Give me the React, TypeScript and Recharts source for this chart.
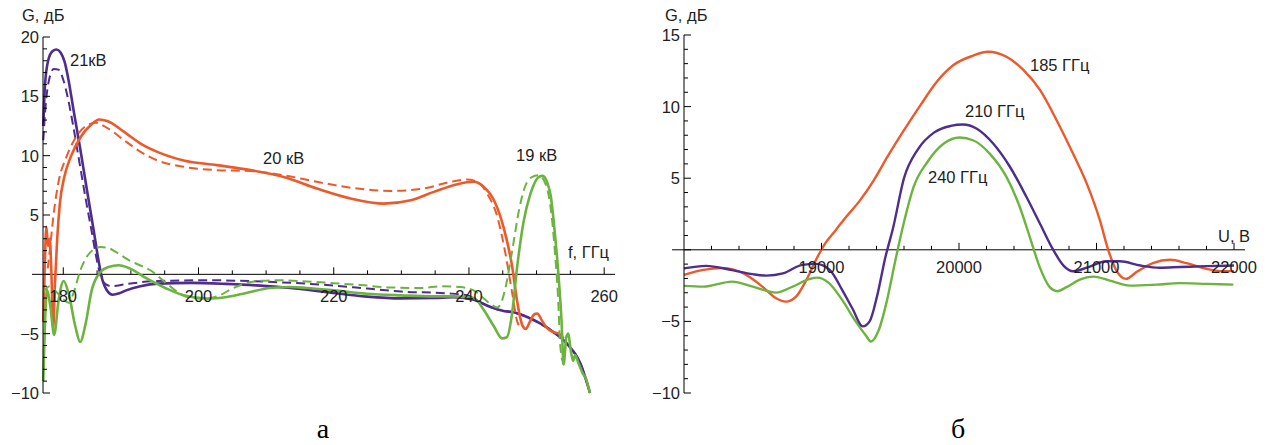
import React from 'react';
import { ComposedChart, Line, XAxis, YAxis, Scatter, ReferenceLine } from 'recharts';

type Pt = [number, number];

const FONT = '"Liberation Sans", Arial, Helvetica, sans-serif';
const SERIF = '"Liberation Serif", "Times New Roman", serif';
const PURPLE = '#4e2d8e';
const RED = '#ec5a2c';
const GREEN = '#6cb43f';
const INK = '#1e1e1e';

// ---------------- Panel а : G(f), f in GHz ----------------
const aXDomain: [number, number] = [177.0, 261.6];
const aYDomain: [number, number] = [-10, 20];
const aXMajor = [180, 200, 220, 240, 260];
const aXMinor = [185, 190, 195, 205, 210, 215, 225, 230, 235, 245, 250, 255];
const aYTicks = [-10, -9, -8, -7, -6, -5, -4, -3, -2, -1, 0, 1, 2, 3, 4, 5, 6, 7, 8, 9, 10, 11, 12, 13, 14, 15, 16, 17, 18, 19, 20];
const aYLabels = [-10, -5, 5, 10, 15, 20];

// 21 кВ
const a21Solid: Pt[] = [
  [177.04, 12.5], [177.3, 16.0], [177.8, 18.1], [178.4, 18.8], [179.0, 18.95], [179.6, 18.7],
  [180.2, 17.9], [180.8, 16.3], [181.5, 13.9], [182.5, 10.6], [183.5, 7.1], [184.5, 3.7],
  [185.2, 1.2], [185.8, -0.5], [186.4, -1.3], [187.3, -1.72], [188.3, -1.6], [189.3, -1.35],
  [191.4, -1.0], [194, -0.78], [199, -0.72], [204, -0.8], [208.6, -0.93], [213.6, -1.15],
  [219, -1.5], [224.9, -1.88], [229.9, -2.03], [234.8, -2.0], [237.8, -1.92], [240.7, -2.14],
  [243.2, -2.76], [245.1, -3.09], [246.6, -3.2], [248.6, -3.6], [250.6, -4.16], [252.5, -4.87],
  [254.5, -5.85], [256.5, -7.54], [257.9, -10.0],
];
const a21Dashed: Pt[] = [
  [177.04, 11.3], [177.4, 14.3], [177.9, 16.4], [178.6, 17.3], [179.3, 17.25], [180.0, 16.4],
  [180.7, 14.8], [181.5, 12.4], [182.4, 9.4], [183.3, 6.4], [184.2, 3.6], [185.0, 1.1],
  [185.6, -0.3], [186.3, -0.85], [187.2, -1.0], [189, -0.85], [193.9, -0.56], [201.3, -0.5],
  [211.1, -0.65], [219, -0.9], [225, -1.2], [230, -1.45], [236.8, -1.6], [239.7, -1.77],
  [241.5, -2.3], [243.2, -2.76], [245.1, -3.09], [246.6, -3.2], [248.6, -3.6], [250.6, -4.16],
  [252.5, -4.87], [254.5, -5.85], [256.5, -7.54], [257.9, -10.0],
];

// 20 кВ
const a20Solid: Pt[] = [
  [177.04, -4.0], [177.25, 0.5], [177.5, 4.0], [177.75, 2.4], [178.0, 3.0], [178.25, 0.0],
  [178.5, -4.6], [178.75, -1.0], [179.1, 3.0], [179.5, 6.0], [180.15, 8.2], [181.1, 9.9],
  [182.6, 11.6], [184.1, 12.6], [185.3, 13.05], [186.6, 12.9], [189, 12.0], [191.5, 11.0],
  [194, 10.3], [197.8, 9.6], [202.7, 9.2], [207.7, 8.78], [212.6, 8.2], [217.5, 7.23],
  [222.5, 6.39], [227.4, 5.96], [231.4, 6.24], [234.8, 6.95], [238.3, 7.6], [240.7, 7.8],
  [242.2, 7.37], [243.7, 6.24], [245.1, 4.0], [246.4, 0.62], [247.1, -2.19], [247.9, -4.3],
  [248.4, -4.6], [249.0, -4.0], [249.6, -3.4], [250.1, -3.3], [250.8, -3.9], [251.5, -4.5],
  [252.5, -4.87], [253.3, -5.0], [254.0, -5.4],
];
const a20Dashed: Pt[] = [
  [177.7, 0.5], [178.0, 2.0], [178.6, 5.2], [179.3, 7.8], [180.4, 9.8], [181.6, 11.3],
  [183.1, 12.4], [184.8, 12.77], [186.6, 12.3], [189, 11.3], [191.5, 10.3], [193.9, 9.6],
  [197.8, 9.06], [202.7, 8.78], [207.7, 8.7], [212.6, 8.35], [217.5, 7.8], [222.5, 7.3],
  [228.4, 7.03], [233.3, 7.23], [237.3, 7.8], [239.7, 7.99], [241.2, 7.8], [242.7, 6.8],
  [244.2, 4.84], [245.4, 1.74], [246.4, -1.6], [247.1, -3.9], [247.6, -4.5],
];

// 19 кВ
const a19Solid: Pt[] = [
  [177.04, -9.0], [177.3, -4.0], [177.6, -1.3], [178.1, -2.76], [178.65, -5.1], [179.3, -2.2],
  [180.05, -0.56], [180.8, -1.63], [181.8, -4.44], [182.5, -5.7], [183.3, -4.16], [184.2, -1.35],
  [185.5, 0.2], [186.7, 0.62], [188.2, 0.76], [189.9, 0.48], [192.4, -0.37], [195.3, -1.21],
  [197.8, -1.77], [201.3, -2.05], [204.2, -1.91], [207.2, -1.55], [210.6, -1.15], [213.6, -1.07],
  [216, -1.15], [220, -1.35], [224.9, -1.63], [229.9, -1.77], [234.8, -1.86], [237.8, -1.86],
  [240.7, -2.0], [242.2, -3.0], [243.7, -4.4], [244.9, -5.4], [245.6, -5.3], [246.4, -3.2],
  [247.1, 0.5], [248.1, 4.5], [249.1, 6.8], [250.3, 8.2], [250.9, 8.3], [251.6, 7.7],
  [252.1, 6.6], [252.7, 3.5], [253.3, -0.5], [253.7, -4.0], [254.0, -7.6], [254.4, -5.3],
  [254.7, -5.0], [255.0, -6.2], [255.4, -7.3], [255.7, -6.8], [256.2, -7.5], [256.8, -8.3],
  [257.3, -8.8], [257.9, -10.0],
];
const a19Dashed: Pt[] = [
  [177.04, -1.5], [178.0, -1.0], [179.0, -1.5], [180.0, -2.1], [180.8, -2.4], [181.5, -1.6],
  [182.5, 0.3], [183.5, 1.5], [184.5, 2.1], [185.5, 2.3], [186.5, 2.25], [188, 1.8],
  [190, 1.1], [192, 0.6], [193, 0.3], [194.5, -0.4], [196, -1.1], [197.5, -1.7],
  [199, -2.0], [201, -2.05], [203, -1.8], [205, -1.2], [207, -0.75], [209, -0.55],
  [212, -0.5], [216, -0.6], [220, -0.75], [224, -0.9], [228, -1.1], [233, -1.15],
  [236, -1.0], [238.7, -1.07], [240.7, -1.35], [241.7, -1.8], [243.2, -2.5], [244.2, -2.8],
  [244.9, -2.2], [245.6, -0.6], [246.4, 2.0], [247.4, 5.4], [248.3, 7.4], [249.3, 8.2],
  [250.3, 8.35], [251.3, 7.65], [252.0, 5.96], [252.7, 2.0], [253.2, -2.2], [253.5, -6.0],
  [254.0, -7.6],
];

// ---------------- Panel б : G(U), U in V ----------------
const bXDomain: [number, number] = [18000, 22080];
const bYDomain: [number, number] = [-10, 15];
const bXMajor = [19000, 20000, 21000, 22000];
const bXMinor = [18200, 18400, 18600, 18800, 19200, 19400, 19600, 19800, 20200, 20400, 20600, 20800, 21200, 21400, 21600, 21800];
const bYTicks = [-10, -9, -8, -7, -6, -5, -4, -3, -2, -1, 0, 1, 2, 3, 4, 5, 6, 7, 8, 9, 10, 11, 12, 13, 14, 15];
const bYLabels = [-10, -5, 5, 10, 15];

// 185 ГГц
const b185: Pt[] = [
  [18000, -1.75], [18140, -1.4], [18280, -1.28], [18430, -1.63], [18570, -2.57], [18670, -3.38],
  [18740, -3.62], [18815, -3.27], [18890, -2.1], [18960, -0.7], [19020, 0.35], [19085, 1.15],
  [19180, 2.3], [19280, 3.45], [19380, 4.85], [19480, 6.5], [19600, 8.35], [19720, 10.1],
  [19840, 11.75], [19960, 12.9], [20100, 13.55], [20210, 13.83], [20345, 13.48], [20470, 12.55],
  [20590, 11.15], [20710, 9.05], [20830, 6.7], [20930, 4.6], [21025, 2.05], [21085, 0.0],
  [21145, -1.45], [21215, -2.03], [21290, -1.56], [21410, -0.93], [21535, -0.7], [21655, -0.93],
  [21800, -1.33], [21900, -1.49], [22000, -1.49],
];
// 210 ГГц
const b210: Pt[] = [
  [18000, -1.3], [18160, -1.12], [18350, -1.42], [18500, -1.7], [18600, -1.8], [18720, -1.65],
  [18860, -1.05], [18960, -0.98], [19060, -1.4], [19150, -2.8], [19225, -4.1], [19300, -5.35],
  [19350, -5.0], [19405, -3.2], [19465, -0.5], [19520, 1.5], [19600, 5.0], [19700, 7.0],
  [19820, 8.2], [19940, 8.65], [20030, 8.75], [20130, 8.45], [20250, 7.4], [20370, 5.8],
  [20490, 3.7], [20590, 1.8], [20685, 0.0], [20760, -1.1], [20830, -1.5], [20930, -1.25],
  [21070, -0.8], [21170, -0.8], [21320, -1.1], [21460, -1.25], [21610, -1.2], [21800, -1.14],
  [22000, -1.1],
];
// 240 ГГц
const b240: Pt[] = [
  [18000, -2.52], [18140, -2.57], [18350, -2.22], [18500, -2.57], [18670, -2.99], [18790, -2.57],
  [18910, -2.05], [18970, -1.94], [19055, -2.33], [19150, -3.5], [19250, -5.02], [19320, -5.95],
  [19360, -6.4], [19415, -5.64], [19476, -3.55], [19537, -0.75], [19600, 1.94], [19670, 4.39],
  [19770, 6.13], [19890, 7.42], [20005, 7.84], [20102, 7.65], [20223, 6.72], [20345, 5.09],
  [20442, 2.99], [20515, 0.89], [20587, -1.21], [20660, -2.61], [20714, -2.89], [20782, -2.61],
  [20879, -2.08], [20976, -1.87], [21097, -2.15], [21243, -2.5], [21437, -2.43], [21607, -2.33],
  [21801, -2.38], [21995, -2.43],
];

const toPts = (a: Pt[]) => a.map(([x, y]) => ({ x, y }));
const fmt = (v: number) => (v < 0 ? '\u2212' + Math.abs(v) : String(v));

const makeYTick = (labels: number[], fontSize: number) => (props: any) => {
  const { x, y, payload } = props;
  const v = payload?.value as number;
  const major = v % 5 === 0;
  return (
    <g>
      <line x1={x} x2={x + (major ? 7 : 4)} y1={y} y2={y} stroke="#000" strokeWidth={1} />
      {labels.includes(v) && (
        <text x={x - 4} y={y} dy="0.36em" textAnchor="end" fontSize={fontSize} fontFamily={FONT} fill={INK}>
          {fmt(v)}
        </text>
      )}
    </g>
  );
};

const makeXTickShape = (labelDy: number, fontSize: number) => (props: any) => {
  const { cx, cy } = props;
  const d = props.payload ?? props;
  if (cx == null || cy == null) return <g />;
  const major = !!d.major;
  return (
    <g>
      <line x1={cx} x2={cx} y1={cy} y2={cy - (major ? 7 : 4)} stroke="#000" strokeWidth={1} />
      {major && (
        <text x={cx} y={cy + labelDy} textAnchor="middle" fontSize={fontSize} fontFamily={FONT} fill={INK}>
          {d.label}
        </text>
      )}
    </g>
  );
};

const xTickData = (major: number[], minor: number[]) => [
  ...major.map((v) => ({ x: v, y: 0, major: true, label: String(v) })),
  ...minor.map((v) => ({ x: v, y: 0, major: false, label: '' })),
];

const PanelA = () => (
  <ComposedChart width={630} height={445} margin={{ top: 37, right: 15, bottom: 52, left: 3 }}>
    <XAxis type="number" dataKey="x" domain={aXDomain} hide height={0} />
    <YAxis
      type="number"
      dataKey="y"
      domain={aYDomain}
      ticks={aYTicks}
      interval={0}
      width={40}
      tickSize={0}
      tickMargin={0}
      tickLine={false}
      axisLine={{ stroke: '#000', strokeWidth: 1 }}
      tick={makeYTick(aYLabels, 16.5)}
    />
    <ReferenceLine
      segment={[{ x: 175.37, y: 0 }, { x: 261.6, y: 0 }]}
      stroke="#000"
      strokeWidth={1}
      ifOverflow="visible"
    />
    <Line data={toPts(a21Solid)} dataKey="y" type="monotone" stroke={PURPLE} strokeWidth={2.6} dot={false} activeDot={false} isAnimationActive={false} />
    <Line data={toPts(a21Dashed)} dataKey="y" type="monotone" stroke={PURPLE} strokeWidth={2} strokeDasharray="9 5" dot={false} activeDot={false} isAnimationActive={false} />
    <Line data={toPts(a20Solid)} dataKey="y" type="monotone" stroke={RED} strokeWidth={2.6} dot={false} activeDot={false} isAnimationActive={false} />
    <Line data={toPts(a20Dashed)} dataKey="y" type="monotone" stroke={RED} strokeWidth={2} strokeDasharray="9 5" dot={false} activeDot={false} isAnimationActive={false} />
    <Line data={toPts(a19Dashed)} dataKey="y" type="monotone" stroke={GREEN} strokeWidth={2} strokeDasharray="9 5" dot={false} activeDot={false} isAnimationActive={false} />
    <Line data={toPts(a19Solid)} dataKey="y" type="monotone" stroke={GREEN} strokeWidth={2.6} dot={false} activeDot={false} isAnimationActive={false} />
    <Scatter data={xTickData(aXMajor, aXMinor)} dataKey="y" shape={makeXTickShape(28, 16.5)} isAnimationActive={false} />
  </ComposedChart>
);

const PanelB = () => (
  <ComposedChart width={626} height={445} margin={{ top: 35, right: 21, bottom: 52, left: 4 }}>
    <XAxis type="number" dataKey="x" domain={bXDomain} hide height={0} />
    <YAxis
      type="number"
      dataKey="y"
      domain={bYDomain}
      ticks={bYTicks}
      interval={0}
      width={40}
      tickSize={0}
      tickMargin={0}
      tickLine={false}
      axisLine={{ stroke: '#000', strokeWidth: 1 }}
      tick={makeYTick(bYLabels, 16.5)}
    />
    <ReferenceLine
      segment={[{ x: 17913, y: 0 }, { x: 22080, y: 0 }]}
      stroke="#000"
      strokeWidth={1}
      ifOverflow="visible"
    />
    <Line data={toPts(b185)} dataKey="y" type="monotone" stroke={RED} strokeWidth={2.4} dot={false} activeDot={false} isAnimationActive={false} />
    <Line data={toPts(b240)} dataKey="y" type="monotone" stroke={GREEN} strokeWidth={2.4} dot={false} activeDot={false} isAnimationActive={false} />
    <Line data={toPts(b210)} dataKey="y" type="monotone" stroke={PURPLE} strokeWidth={2.4} dot={false} activeDot={false} isAnimationActive={false} />
    <Scatter data={xTickData(bXMajor, bXMinor)} dataKey="y" shape={makeXTickShape(23, 16.5)} isAnimationActive={false} />
  </ComposedChart>
);

const annotations: { text: string; x: number; y: number; anchor?: 'start' | 'middle' | 'end' }[] = [
  { text: 'G, дБ', x: 22, y: 21 },
  { text: 'f, ГГц', x: 568, y: 258 },
  { text: '21кВ', x: 70, y: 66 },
  { text: '20 кВ', x: 263, y: 164 },
  { text: '19 кВ', x: 516, y: 161 },
  { text: 'G, дБ', x: 665, y: 21 },
  { text: 'U, В', x: 1218, y: 242 },
  { text: '185 ГГц', x: 1030, y: 71 },
  { text: '210 ГГц', x: 965, y: 117 },
  { text: '240 ГГц', x: 928, y: 183 },
];

export default function App() {
  return (
    <div style={{ position: 'absolute', left: 0, top: 0, width: 1266, height: 445, background: '#fff', overflow: 'hidden' }}>
      <div style={{ position: 'absolute', left: 0, top: 0 }}>
        <PanelA />
      </div>
      <div style={{ position: 'absolute', left: 640, top: 0 }}>
        <PanelB />
      </div>
      <svg width={1266} height={445} style={{ position: 'absolute', left: 0, top: 0, pointerEvents: 'none' }}>
        {annotations.map((a, i) => (
          <text key={i} x={a.x} y={a.y} textAnchor={a.anchor ?? 'start'} fontSize={16.5} fontFamily={FONT} fill={INK}>
            {a.text}
          </text>
        ))}
        <text x={323} y={438} textAnchor="middle" fontSize={28} fontFamily={SERIF} fill="#000">а</text>
        <text x={958} y={438} textAnchor="middle" fontSize={28} fontFamily={SERIF} fill="#000">б</text>
      </svg>
    </div>
  );
}
